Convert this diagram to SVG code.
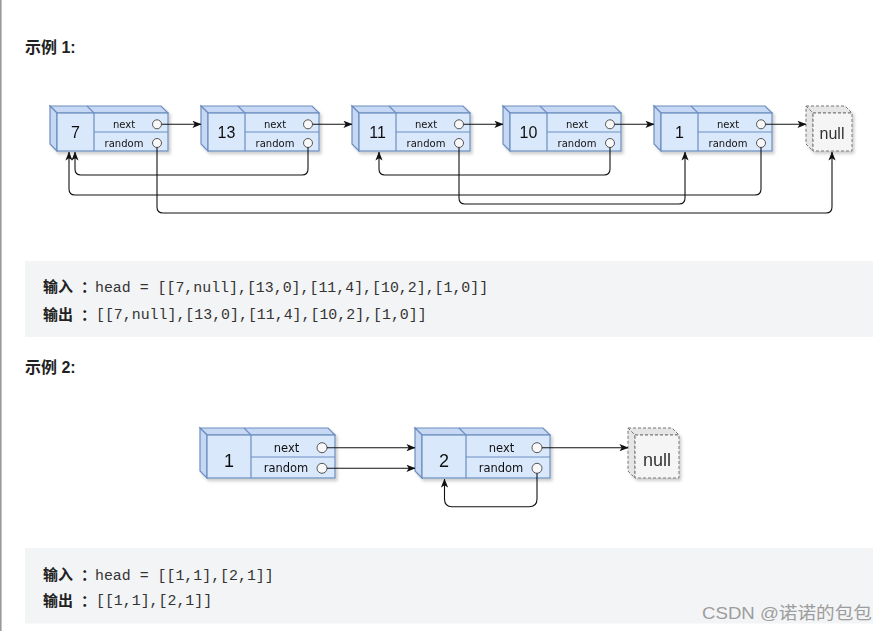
<svg xmlns="http://www.w3.org/2000/svg" width="888" height="631" viewBox="0 0 888 631">
<style>
.face{fill:#dae8fc;stroke:#6c8ebf;stroke-width:1.2}
.side{fill:#c6d8f3;stroke:#6c8ebf;stroke-width:1.2}
.ln{stroke:#6c8ebf;stroke-width:1.2;fill:none}
.port{fill:#f8f8f8;stroke:#555;stroke-width:1}
.nf{fill:#f5f5f5;stroke:#777;stroke-width:1;stroke-dasharray:3 2}
.nfs{fill:#e6e6e6;stroke:#777;stroke-width:1;stroke-dasharray:3 2}
.lbl{font-family:"DejaVu Sans","Liberation Sans",sans-serif;fill:#111;text-anchor:middle}
.val{font-family:"Liberation Sans","DejaVu Sans",sans-serif;fill:#111;text-anchor:middle}
.nul{font-family:"Liberation Sans",sans-serif;fill:#333;text-anchor:middle}
.con{fill:none;stroke:#111;stroke-width:1.1}
.ttl{font-family:"Liberation Sans","Noto Sans CJK SC",sans-serif;font-weight:bold;font-size:16px;fill:#222}
.cn{font-family:"Noto Sans CJK SC",sans-serif;font-weight:bold;font-size:15px;fill:#222}
.mono{font-family:"Liberation Mono",monospace;font-size:14.9px;fill:#333}
.blk{fill:#f3f4f5}
</style>
<defs>
<marker id="arr" viewBox="0 0 10 8" refX="9.5" refY="4" markerWidth="9" markerHeight="7.2" orient="auto" markerUnits="userSpaceOnUse">
<path d="M0,0 L10,4 L0,8 L2.5,4 z" fill="#111"/>
</marker>
<filter id="sh" x="-10%" y="-10%" width="130%" height="140%">
<feDropShadow dx="2" dy="2.5" stdDeviation="1.5" flood-color="#000" flood-opacity="0.2"/>
</filter>
</defs>

<rect x="0" y="0" width="1.6" height="631" fill="#9a9a9a"/>

<text class="ttl" x="25" y="52.5">示例 1:</text>
<text class="ttl" x="25" y="372.5">示例 2:</text>

<!-- Example 1 nodes -->
<g id="n1_7" transform="translate(57,113)" filter="url(#sh)">
<polygon class="side" points="-7,-7 104,-7 111,0 0,0"/>
<polygon class="side" points="-7,-7 0,0 0,38 -7,31"/>
<rect class="face" x="0" y="0" width="111" height="38"/>
<path class="ln" d="M30,-7 L37,0 V38 M37,19 H111"/>
<circle class="port" cx="100" cy="11.3" r="4.5"/><circle class="port" cx="100" cy="30" r="4.5"/>
<text class="lbl" x="67" y="14.8" font-size="10">next</text>
<text class="lbl" x="67" y="33.5" font-size="10">random</text>
<text class="val" x="18.5" y="25" font-size="16">7</text>
</g>
<g id="n1_13" transform="translate(208,113)" filter="url(#sh)">
<polygon class="side" points="-7,-7 104,-7 111,0 0,0"/>
<polygon class="side" points="-7,-7 0,0 0,38 -7,31"/>
<rect class="face" x="0" y="0" width="111" height="38"/>
<path class="ln" d="M30,-7 L37,0 V38 M37,19 H111"/>
<circle class="port" cx="100" cy="11.3" r="4.5"/><circle class="port" cx="100" cy="30" r="4.5"/>
<text class="lbl" x="67" y="14.8" font-size="10">next</text>
<text class="lbl" x="67" y="33.5" font-size="10">random</text>
<text class="val" x="18.5" y="25" font-size="16">13</text>
</g>
<g id="n1_11" transform="translate(359,113)" filter="url(#sh)">
<polygon class="side" points="-7,-7 104,-7 111,0 0,0"/>
<polygon class="side" points="-7,-7 0,0 0,38 -7,31"/>
<rect class="face" x="0" y="0" width="111" height="38"/>
<path class="ln" d="M30,-7 L37,0 V38 M37,19 H111"/>
<circle class="port" cx="100" cy="11.3" r="4.5"/><circle class="port" cx="100" cy="30" r="4.5"/>
<text class="lbl" x="67" y="14.8" font-size="10">next</text>
<text class="lbl" x="67" y="33.5" font-size="10">random</text>
<text class="val" x="18.5" y="25" font-size="16">11</text>
</g>
<g id="n1_10" transform="translate(510,113)" filter="url(#sh)">
<polygon class="side" points="-7,-7 104,-7 111,0 0,0"/>
<polygon class="side" points="-7,-7 0,0 0,38 -7,31"/>
<rect class="face" x="0" y="0" width="111" height="38"/>
<path class="ln" d="M30,-7 L37,0 V38 M37,19 H111"/>
<circle class="port" cx="100" cy="11.3" r="4.5"/><circle class="port" cx="100" cy="30" r="4.5"/>
<text class="lbl" x="67" y="14.8" font-size="10">next</text>
<text class="lbl" x="67" y="33.5" font-size="10">random</text>
<text class="val" x="18.5" y="25" font-size="16">10</text>
</g>
<g id="n1_1" transform="translate(661,113)" filter="url(#sh)">
<polygon class="side" points="-7,-7 104,-7 111,0 0,0"/>
<polygon class="side" points="-7,-7 0,0 0,38 -7,31"/>
<rect class="face" x="0" y="0" width="111" height="38"/>
<path class="ln" d="M30,-7 L37,0 V38 M37,19 H111"/>
<circle class="port" cx="100" cy="11.3" r="4.5"/><circle class="port" cx="100" cy="30" r="4.5"/>
<text class="lbl" x="67" y="14.8" font-size="10">next</text>
<text class="lbl" x="67" y="33.5" font-size="10">random</text>
<text class="val" x="18.5" y="25" font-size="16">1</text>
</g>
<g id="n1_null" transform="translate(813,113)" filter="url(#sh)">
<polygon class="nfs" points="-7,-7 32,-7 39,0 0,0"/>
<polygon class="nfs" points="-7,-7 0,0 0,38 -7,31"/>
<rect class="nf" x="0" y="0" width="39" height="38"/>
<text class="nul" x="19" y="25.5" font-size="16">null</text>
</g>

<!-- Example 1 connectors -->
<g id="connectors1">
<path class="con" d="M161.5,124.3 H201" marker-end="url(#arr)"/>
<path class="con" d="M312.5,124.3 H352" marker-end="url(#arr)"/>
<path class="con" d="M463.5,124.3 H503" marker-end="url(#arr)"/>
<path class="con" d="M614.5,124.3 H654" marker-end="url(#arr)"/>
<path class="con" d="M765.5,124.3 H806" marker-end="url(#arr)"/>
<path class="con" d="M308,147.5 V169 Q308,175 302,175 H81 Q75,175 75,169 V152" marker-end="url(#arr)"/>
<path class="con" d="M761,147.5 V189 Q761,195 755,195 H75 Q69,195 69,189 V152" marker-end="url(#arr)"/>
<path class="con" d="M459,147.5 V198 Q459,204 465,204 H679 Q685,204 685,198 V152" marker-end="url(#arr)"/>
<path class="con" d="M610,147.5 V169 Q610,175 604,175 H385 Q379,175 379,169 V152" marker-end="url(#arr)"/>
<path class="con" d="M157,147.5 V207 Q157,213 163,213 H826 Q832,213 832,207 V152" marker-end="url(#arr)"/>
</g>

<!-- Text block 1 -->
<g id="block1">
<rect class="blk" x="25" y="261" width="848" height="76"/>
<text class="cn" x="43" y="292">输入</text><text class="cn" x="81" y="292">：</text>
<text class="mono" x="95" y="291.5">head = [[7,null],[13,0],[11,4],[10,2],[1,0]]</text>
<text class="cn" x="43" y="319.5">输出</text><text class="cn" x="81" y="319.5">：</text>
<text class="mono" x="96" y="319">[[7,null],[13,0],[11,4],[10,2],[1,0]]</text>
</g>

<!-- Example 2 nodes -->
<g id="n2_1" transform="translate(207,435)" filter="url(#sh)">
<polygon class="side" points="-7,-7 121,-7 128,0 0,0"/>
<polygon class="side" points="-7,-7 0,0 0,43 -7,36"/>
<rect class="face" x="0" y="0" width="128" height="43"/>
<path class="ln" d="M37,-7 L44,0 V43 M44,22 H128"/>
<circle class="port" cx="115" cy="12.7" r="5"/><circle class="port" cx="115" cy="33.3" r="5"/>
<text class="lbl" x="79.5" y="16.6" font-size="11.5">next</text>
<text class="lbl" x="79" y="37.2" font-size="11.5">random</text>
<text class="val" x="22" y="31.5" font-size="18">1</text>
</g>
<g id="n2_2" transform="translate(422,435)" filter="url(#sh)">
<polygon class="side" points="-7,-7 121,-7 128,0 0,0"/>
<polygon class="side" points="-7,-7 0,0 0,43 -7,36"/>
<rect class="face" x="0" y="0" width="128" height="43"/>
<path class="ln" d="M37,-7 L44,0 V43 M44,22 H128"/>
<circle class="port" cx="115" cy="12.7" r="5"/><circle class="port" cx="115" cy="33.3" r="5"/>
<text class="lbl" x="79.5" y="16.6" font-size="11.5">next</text>
<text class="lbl" x="79" y="37.2" font-size="11.5">random</text>
<text class="val" x="22" y="31.5" font-size="18">2</text>
</g>
<g id="n2_null" transform="translate(635,435)" filter="url(#sh)">
<polygon class="nfs" points="-7,-7 37,-7 44,0 0,0"/>
<polygon class="nfs" points="-7,-7 0,0 0,43 -7,36"/>
<rect class="nf" x="0" y="0" width="44" height="43"/>
<text class="nul" x="22" y="31" font-size="18">null</text>
</g>

<!-- Example 2 connectors -->
<g id="connectors2">
<path class="con" d="M327,447.7 H415" marker-end="url(#arr)"/>
<path class="con" d="M327,468.3 H415" marker-end="url(#arr)"/>
<path class="con" d="M542,447.7 H628" marker-end="url(#arr)"/>
<path class="con" d="M537,473.3 V499 Q537,506.7 529,506.7 H452 Q444.5,506.7 444.5,499 V479" marker-end="url(#arr)"/>
</g>

<!-- Text block 2 -->
<g id="block2">
<rect class="blk" x="25" y="548" width="848" height="75.5"/>
<text class="cn" x="43" y="580">输入</text><text class="cn" x="81" y="580">：</text>
<text class="mono" x="95" y="579.5">head = [[1,1],[2,1]]</text>
<text class="cn" x="43" y="605.5">输出</text><text class="cn" x="81" y="605.5">：</text>
<text class="mono" x="96" y="605">[[1,1],[2,1]]</text>
<text x="702" y="619" font-family="Liberation Sans,'Noto Sans CJK SC',sans-serif" font-size="17" fill="#9d9d9d" textLength="170" lengthAdjust="spacingAndGlyphs">CSDN @诺诺的包包</text>
</g>
</svg>
